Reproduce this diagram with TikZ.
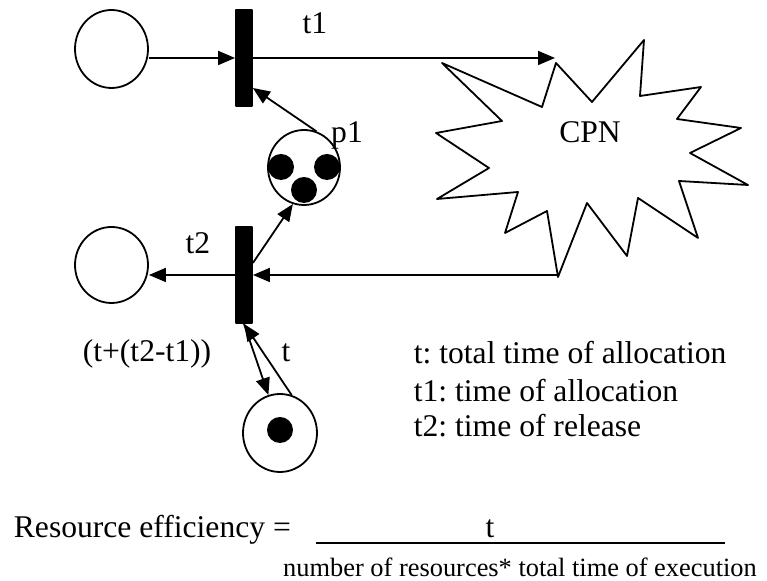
\documentclass[tikz,border=0pt]{standalone}
\usepackage{fontspec}
\setmainfont{Liberation Serif}
\frenchspacing
\usetikzlibrary{arrows.meta,shapes.geometric}
\begin{document}
\begin{tikzpicture}[x=0.5pt, y=-0.5pt, font=\fontsize{15.8}{19}\selectfont, line join=round, line width=0.9pt, >={Triangle[length=8.5pt,width=7pt]}]
	\tikzset{place/.style={draw, ellipse, inner sep=0pt, minimum width=36.5pt, minimum height=39pt},
		trans/.style={draw, fill=black, rectangle, inner sep=0pt, minimum width=8pt, minimum height=48pt},
		lbl/.style={inner sep=0pt}}
	\useasboundingbox (0,0) rectangle (767,581);
	% Places and transitions
	\node[place] (pin) at (111.5,49) {};
	\node[place, minimum height=38pt] (pout) at (111.5,265) {};
	\node[place, minimum width=36pt, minimum height=37.5pt] (p1) at (304,167.5) {};
	\node[place, minimum width=37pt] (pt) at (280,433) {};
	\node[trans] (t1) at (244,58) {};
	\node[trans] (t2) at (244,275) {};
	% Tokens
	\fill (281,167) circle (6.5pt) (327,167) circle (6.5pt) (304,190) circle (6.5pt);
	\fill (280,430) circle (6.5pt);
	% CPN
	\path (555,58) coordinate (cpnin) (558,275) coordinate (cpnout);
	\draw (442,63) -- (542,107) -- (556,63) -- (592,102) -- (644,40) -- (640,96) -- (701,87) -- (677,119)
		-- (741,128) -- (690,153) -- (748,185) -- (679,181) -- (698,238) -- (638,198) -- (627,256) -- (587,203)
		-- (558,277) -- (547,211) -- (505,233) -- (518,192) -- (437,199) -- (489,168) -- (436,133) -- (502,121) -- cycle;
	\node[lbl] (cpn) at (590,132) {CPN};
	% Arcs
	\draw[->] (pin.east |- t1.west) -- (t1.west);
	\draw[->] (t1.east) -- (cpnin);
	\draw[->] (p1.71) -- ([yshift=-15pt]t1.east);
	\draw[->] (cpnout) -- (t2.east);
	\draw[->] (t2.west) -- (t2.west -| pout.east);
	\draw[->] ([yshift=6pt]t2.east) -- (p1.253);
	\draw[->] (pt.73) -- (t2.south);
	\draw[->] (t2.south) -- (pt.107);
	% Labels
	\node[lbl] (lt1) at (315,23) {t1};
	\node[lbl] (lp1) at (347,135) {p1};
	\node[lbl] (lt2) at (198,243) {t2};
	\node[lbl] (lsum) at (147,354) {(t+(t2-t1))};
	\node[lbl] (lt) at (286,353) {t};
	\node[lbl, anchor=west] (leg1) at (413,353) {t: total time of allocation};
	\node[lbl, anchor=west] (leg2) at (413,391) {t1: time of allocation};
	\node[lbl, anchor=west] (leg3) at (413,426) {t2: time of release};
	% Efficiency
	\node[lbl, anchor=base west] (eff) at (13,538) {Resource efficiency =};
	\path (316,543) coordinate (fa) (725,543) coordinate (fb);
	\draw (fa) -- (fb);
	\node[lbl, anchor=base] (num) at (490,538) {t};
	\node[lbl, anchor=base, font=\fontsize{13.2}{16}\selectfont] (den) at (520,577) {number of resources* total time of execution};
\end{tikzpicture}
\end{document}
